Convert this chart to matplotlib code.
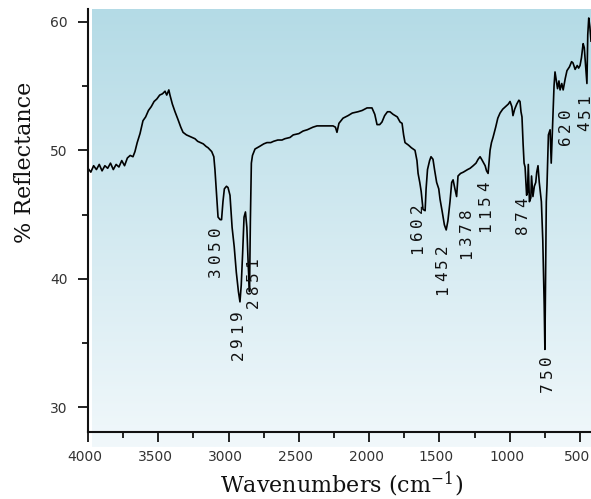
import numpy as np
import matplotlib
matplotlib.use("Agg")
import matplotlib.pyplot as plt
import matplotlib.transforms as mtransforms
from matplotlib.colors import LinearSegmentedColormap

# ---- spectrum (wavenumber in cm^-1, % reflectance) ----
wavenumber = [
    4000, 3980, 3960, 3940, 3920, 3900, 3880, 3860, 3840, 3820, 3800, 3780,
    3760, 3740, 3720, 3700, 3680, 3666, 3650, 3630, 3609, 3590, 3570, 3550,
    3530, 3510, 3490, 3470, 3452, 3440, 3425, 3417, 3400, 3381, 3360, 3340,
    3324, 3300, 3280, 3260, 3239, 3220, 3200, 3180, 3160, 3146, 3120, 3105,
    3097, 3085, 3075, 3060, 3050, 3040, 3030, 3015, 3004, 2990, 2975, 2960,
    2945, 2930, 2919, 2910, 2900, 2890, 2880, 2870, 2860, 2851, 2845, 2838,
    2830, 2812, 2780, 2750, 2727, 2700, 2680, 2650, 2620, 2600, 2563, 2540,
    2500, 2470, 2440, 2400, 2371, 2340, 2300, 2257, 2240, 2229, 2215, 2200,
    2186, 2150, 2120, 2080, 2050, 2015, 1980, 1960, 1944, 1925, 1909, 1890,
    1870, 1852, 1830, 1800, 1780, 1766, 1755, 1745, 1720, 1700, 1674, 1660,
    1652, 1640, 1630, 1617, 1602, 1595, 1585, 1570, 1560, 1546, 1535, 1520,
    1505, 1496, 1480, 1465, 1452, 1440, 1425, 1413, 1403, 1390, 1378, 1368,
    1350, 1330, 1300, 1282, 1260, 1240, 1225, 1211, 1200, 1190, 1175, 1165,
    1154, 1145, 1140, 1130, 1119, 1100, 1085, 1069, 1050, 1030, 1010, 998,
    985, 977, 965, 950, 935, 927, 920, 913, 905, 898, 891, 880,
    874, 868, 860, 850, 845, 835, 825, 815, 808, 799, 790, 775,
    765, 755, 750, 745, 740, 735, 725, 713, 705, 700, 690, 685,
    678, 670, 660, 650, 642, 630, 620, 605, 593, 575, 560, 550,
    535, 520, 510, 500, 490, 478, 470, 460, 451, 445, 438, 430,
    422,
]
reflectance = [
    48.6, 48.3, 48.8, 48.5, 48.9, 48.4, 48.8, 48.6, 49.0, 48.5, 48.9, 48.7,
    49.2, 48.8, 49.4, 49.6, 49.5, 49.9, 50.6, 51.3, 52.3, 52.6, 53.1, 53.4,
    53.8, 54.0, 54.3, 54.4, 54.6, 54.3, 54.7, 54.3, 53.6, 53.0, 52.4, 51.8,
    51.4, 51.2, 51.1, 51.0, 50.9, 50.7, 50.6, 50.5, 50.3, 50.2, 49.9, 49.5,
    48.5, 46.5, 44.8, 44.6, 44.6, 46.0, 47.0, 47.2, 47.1, 46.5, 44.0, 42.5,
    40.5, 39.0, 38.2, 39.5, 42.0, 44.8, 45.2, 44.0, 41.0, 39.0, 44.5, 49.0,
    49.6, 50.1, 50.3, 50.5, 50.6, 50.6, 50.7, 50.8, 50.8, 50.9, 51.0, 51.2,
    51.3, 51.5, 51.6, 51.8, 51.9, 51.9, 51.9, 51.9, 51.8, 51.4, 52.1, 52.3,
    52.5, 52.7, 52.9, 53.0, 53.1, 53.3, 53.3, 52.8, 52.0, 52.0, 52.2, 52.7,
    53.0, 53.0, 52.8, 52.6, 52.2, 52.1, 51.2, 50.6, 50.4, 50.2, 50.0, 49.2,
    48.2, 47.5, 46.8, 45.4, 45.3, 47.0, 48.5, 49.2, 49.5, 49.3, 48.5, 47.5,
    47.0, 46.2, 45.2, 44.2, 43.8, 44.5, 46.0, 47.5, 47.7, 47.0, 46.4, 48.0,
    48.2, 48.3, 48.5, 48.6, 48.8, 49.0, 49.3, 49.5, 49.3, 49.1, 48.8, 48.4,
    48.2, 49.3, 50.0, 50.6, 51.0, 51.8, 52.5, 52.9, 53.2, 53.4, 53.6, 53.8,
    53.4, 52.7, 53.2, 53.6, 53.9, 53.8, 53.0, 52.6, 50.5, 49.0, 48.7, 46.5,
    46.7, 48.9, 46.0, 46.3, 48.0, 46.4, 47.2, 47.5, 48.3, 48.8, 47.5, 46.0,
    43.0, 38.0, 34.5, 40.0, 46.0, 47.3, 51.2, 51.6, 49.0, 50.5, 53.5, 55.0,
    56.1, 55.5, 54.8, 55.4, 54.7, 55.2, 54.7, 55.6, 56.2, 56.5, 56.9, 56.8,
    56.3, 56.6, 56.4, 56.6, 57.2, 58.3, 58.0, 56.5, 55.2, 59.0, 60.3, 59.6,
    58.5,
]

# ---- peak annotations ----
peak_labels = ["3050", "2919", "2851", "1602", "1452", "1378",
               "1154", "874", "750", "620", "451"]
peak_wn = [3050, 2919, 2851, 1602, 1452, 1378, 1154, 874, 750, 620, 451]
label_top = [44.2, 37.7, 41.8, 46.0, 42.8, 45.6, 47.7, 46.5, 34.2, 53.4, 54.5]
label_dx = [-6.5, -2.0, 3.5, -8.0, -4.0, 9.5, -3.0, -5.0, 2.0, 2.0, -2.0]  # px

x_ticks = [4000, 3500, 3000, 2500, 2000, 1500, 1000, 500]
y_ticks = [30, 40, 50, 60]

DPI = 100
W, H = 591, 499
fig = plt.figure(figsize=(W / DPI, H / DPI), dpi=DPI)
fig.patch.set_facecolor("white")

left_px, right_px, top_px, bottom_px = 88, 591, 9, 432
ax = fig.add_axes([left_px / W, 1 - bottom_px / H,
                   (right_px - left_px) / W, (bottom_px - top_px) / H])
ax.set_facecolor("none")

# vertical gradient backdrop
cmap = LinearSegmentedColormap.from_list("bg", ["#f1f8fb", "#b4dbe6"])
grad = np.linspace(0, 1, 256).reshape(-1, 1)
ax.imshow(grad, cmap=cmap, aspect="auto", origin="lower",
          extent=(0.008, 1.0, -0.035, 1.0), transform=ax.transAxes,
          zorder=0, clip_on=False)

ax.plot(wavenumber, reflectance, color="black", lw=1.2, zorder=3)

ax.set_xlim(4000, 422)
ax.set_ylim(28.07, 61.0)

ax.set_xticks(x_ticks)
ax.set_xticklabels([str(t) for t in x_ticks])
ax.set_xticks([3750, 3250, 2750, 2250, 1750, 1250, 750], minor=True)
ax.set_yticks(y_ticks)
ax.set_yticklabels([str(t) for t in y_ticks])
ax.set_yticks([35, 45, 55], minor=True)

for side in ("top", "right"):
    ax.spines[side].set_visible(False)
for side in ("left", "bottom"):
    ax.spines[side].set_linewidth(1.5)
    ax.spines[side].set_color("#111111")
    ax.spines[side].set_zorder(4)

ax.tick_params(axis="both", which="major", direction="out", length=7.5,
               width=1.3, color="#111111", labelsize=10, labelcolor="#333333")
ax.tick_params(axis="both", which="minor", direction="out", length=4,
               width=1.3, color="#111111")
ax.tick_params(axis="x", which="major", pad=5.5)
ax.tick_params(axis="y", which="major", pad=7)

# x tick labels sit slightly left of their ticks
shift = mtransforms.ScaledTranslation(-3 / DPI, 0, fig.dpi_scale_trans)
for lbl in ax.get_xticklabels():
    lbl.set_transform(lbl.get_transform() + shift)

# rotated peak labels with wide character spacing
pitch_pt = 9.7
for s, wn, top, dx in zip(peak_labels, peak_wn, label_top, label_dx):
    n = len(s)
    for i, ch in enumerate(s):
        dy = -(n - 1 - i + 0.5) * pitch_pt
        ax.annotate(ch, xy=(wn, top), xytext=(dx * 0.72, dy),
                    textcoords="offset points", rotation=90,
                    ha="center", va="center", fontsize=11.5,
                    family="DejaVu Sans Mono", color="#111111",
                    annotation_clip=False, zorder=5)

plt.rcParams["mathtext.fontset"] = "dejavuserif"
fig.text(342 / W, 1 - 484 / H, r"Wavenumbers (cm$^{-1}$)", ha="center",
         va="center", fontsize=16, family="DejaVu Serif", color="#111111")
fig.text(25 / W, 1 - 162 / H, "% Reflectance", ha="center", va="center",
         rotation=90, fontsize=16, family="DejaVu Serif", color="#111111")

fig.savefig("out.png", dpi=DPI)
